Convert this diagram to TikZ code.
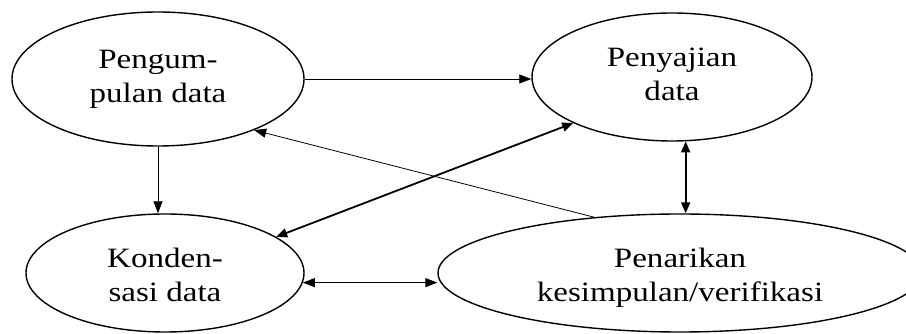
\documentclass[tikz,border=0pt]{standalone}
\usepackage{fontspec}
\setmainfont{Liberation Serif}
\usepackage{graphicx}
\usepackage{tikz}
\usetikzlibrary{positioning,arrows.meta,shapes.geometric}
\newcommand{\twolines}[2]{\scalebox{1.18}[1]{\begin{tabular}{@{}c@{}}#1\\#2\end{tabular}}}
\newcommand{\lowered}[1]{\raisebox{-5pt}[\height][\depth]{#1}}

\begin{document}
\begin{tikzpicture}[x=1pt, y=1pt,
  blob/.style={ellipse, draw=black, line width=1.4pt, inner sep=0pt,
               font=\fontsize{28}{34}\selectfont, text=black},
  thinarr/.style={line width=0.8pt, -{Triangle[length=12pt, width=9pt]}},
  thickarr/.style={line width=1.8pt, {Triangle[length=11pt, width=9pt]}-{Triangle[length=11pt, width=9pt]}},
  midarr/.style={line width=1.1pt, {Triangle[length=12pt, width=9pt]}-{Triangle[length=12pt, width=9pt]}}]
% analysis cycle — all coordinates absolute, 1 unit = 1 pixel
\useasboundingbox (0,0) rectangle (906,334);
\clip (0,0) rectangle (906,334);

% 1. Ellipses
\node[blob, minimum width=292, minimum height=134] (kumpul) at (158,255) {\twolines{Pengum-}{pulan data}};
\node[blob, minimum width=280, minimum height=128] (saji)   at (672,257) {\twolines{Penyajian}{data}};
\node[blob, minimum width=278, minimum height=118] (kondens) at (165,61) {\lowered{\twolines{Konden-}{sasi data}}};
\node[blob, minimum width=484, minimum height=118] (tarik)  at (680,61) {\lowered{\twolines{Penarikan}{kesimpulan/verifikasi}}};

% 2. Single arrows
\draw[thinarr] (kumpul.east) -- (kumpul.east -| saji.west);
\draw[thinarr] (kumpul.south) -- (kumpul.south |- kondens.north);
\draw[thinarr] (tarik.147) -- (kumpul.-28);

% 3. Two-way arrows
\draw[thickarr] (kondens.18) -- (saji.205);
\draw[thickarr] (saji.-78) -- (saji.-78 |- tarik.north);
\draw[midarr] (kondens.-4) -- (kondens.-4 -| tarik.west);

\end{tikzpicture}
\end{document}
